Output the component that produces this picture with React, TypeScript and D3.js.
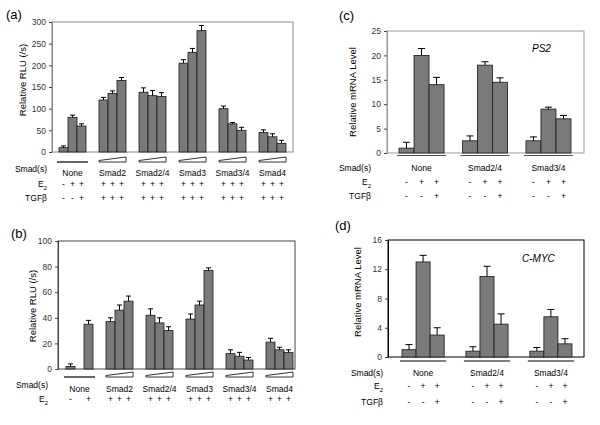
import React, { useRef, useEffect } from 'react';
import * as d3 from 'd3';

const FONT = '"Liberation Sans", Arial, sans-serif';

// (a) E2 + TGFb, RLU
const rluGroups = ['None', 'Smad2', 'Smad2/4', 'Smad3', 'Smad3/4', 'Smad4'];
const rluTgfValues = [[10, 80, 60], [120, 135, 165], [138, 130, 128], [205, 230, 280], [100, 65, 50], [45, 35, 20]];
const rluTgfErrors = [[4, 5, 5], [6, 6, 7], [10, 12, 9], [8, 9, 12], [6, 3, 7], [6, 7, 7]];
const rluTgfE2 = [['-', '+', '+'], ['+', '+', '+'], ['+', '+', '+'], ['+', '+', '+'], ['+', '+', '+'], ['+', '+', '+']];
const rluTgfTgf = [['-', '-', '+'], ['+', '+', '+'], ['+', '+', '+'], ['+', '+', '+'], ['+', '+', '+'], ['+', '+', '+']];
const rluTicks = [0, 50, 100, 150, 200, 250, 300];

// (b) E2 only, RLU
const rluE2Values = [[2, null, 35], [37, 46, 53], [42, 36, 30], [39, 50, 77], [12, 10, 7], [21, 15, 13]];
const rluE2Errors = [[2, null, 3], [3, 4, 4], [5, 4, 3], [4, 3, 2], [3, 3, 2], [3, 2, 2]];
const rluE2E2 = [['-', '', '+'], ['+', '+', '+'], ['+', '+', '+'], ['+', '+', '+'], ['+', '+', '+'], ['+', '+', '+']];
const rluE2Ticks = [0, 20, 40, 60, 80, 100];

// (c) PS2 and (d) C-MYC mRNA
const mrnaGroups = ['None', 'Smad2/4', 'Smad3/4'];
const ps2Values = [[1, 20, 14], [2.5, 18, 14.5], [2.5, 9, 7]];
const ps2Errors = [[1.2, 1.4, 1.5], [1, 0.7, 0.9], [0.8, 0.4, 0.7]];
const ps2Ticks = [0, 5, 10, 15, 20, 25];
const mycValues = [[1, 13, 3], [0.8, 11, 4.5], [0.8, 5.5, 1.8]];
const mycErrors = [[0.7, 0.9, 1], [0.6, 1.4, 1.4], [0.5, 1, 0.7]];
const mycTicks = [0, 4, 8, 12, 16];
const mrnaE2 = [['-', '+', '+'], ['-', '+', '+'], ['-', '+', '+']];
const mrnaTgf = [['-', '-', '+'], ['-', '-', '+'], ['-', '-', '+']];

function drawPanel(root: any, p: any) {
  const g = root.append('g');
  const y = d3.scaleLinear().domain([0, p.yMax]).range([p.bottom, p.top]);
  const x = d3.scaleBand().domain(p.groups).range([p.bandStart, p.bandEnd]).paddingInner(p.padInner).paddingOuter(0);
  const slot = d3.scaleBand<number>().domain([0, 1, 2]).range([0, x.bandwidth()]);
  const w = slot.bandwidth();

  g.append('rect')
    .attr('x', p.left).attr('y', p.top)
    .attr('width', p.right - p.left).attr('height', p.bottom - p.top)
    .attr('fill', 'none').attr('stroke', p.frame).attr('stroke-width', 1);

  const ax = g.append('g')
    .attr('transform', `translate(${p.left},0)`)
    .call(d3.axisLeft(y).tickValues(p.ticks).tickSize(3).tickPadding(3));
  ax.select('.domain').attr('stroke', p.frame);
  ax.selectAll('line').attr('stroke', '#444');
  ax.selectAll('text').attr('font-size', 8.5).attr('font-family', FONT).attr('fill', '#333');

  // bars + error bars
  p.groups.forEach((grp: string, gi: number) => {
    p.values[gi].forEach((v: number | null, si: number) => {
      if (v == null) return;
      const bx = (x(grp) as number) + (slot(si) as number);
      g.append('rect')
        .attr('x', bx).attr('y', y(v))
        .attr('width', w).attr('height', y(0) - y(v))
        .attr('fill', '#7a7a7a').attr('stroke', '#1a1a1a').attr('stroke-width', 0.8);
      const e = p.errors[gi][si];
      const cx = bx + w / 2;
      g.append('line').attr('x1', cx).attr('x2', cx).attr('y1', y(v)).attr('y2', y(v + e))
        .attr('stroke', '#000').attr('stroke-width', 1);
      g.append('line').attr('x1', cx - p.cap).attr('x2', cx + p.cap).attr('y1', y(v + e)).attr('y2', y(v + e))
        .attr('stroke', '#000').attr('stroke-width', 1);
    });

    // group marker: line or dose wedge
    const gx0 = x(grp) as number;
    const gx1 = gx0 + x.bandwidth();
    if (p.wedge && grp !== 'None') {
      g.append('polygon')
        .attr('points', `${gx0},${p.markY} ${gx1},${p.markY} ${gx1},${p.markY - 5} ${gx0},${p.markY - 1.5}`)
        .attr('fill', '#fff').attr('stroke', '#000').attr('stroke-width', 0.8);
    } else {
      g.append('line')
        .attr('x1', gx0 - 2).attr('x2', gx1 + 2).attr('y1', p.markY).attr('y2', p.markY)
        .attr('stroke', p.lineColor).attr('stroke-width', 1.2);
    }

    g.append('text')
      .attr('x', (gx0 + gx1) / 2).attr('y', p.groupY)
      .attr('text-anchor', 'middle').attr('font-size', 8.5).attr('font-family', FONT)
      .text(grp);
  });

  g.append('text')
    .attr('x', p.rowLabelX).attr('y', p.smadY)
    .attr('text-anchor', 'end').attr('font-size', 8.5).attr('font-family', FONT)
    .text('Smad(s)');

  p.rows.forEach((row: any) => {
    const t = g.append('text')
      .attr('x', p.rowLabelX).attr('y', row.y)
      .attr('text-anchor', 'end').attr('font-size', 8.5).attr('font-family', FONT);
    if (row.label === 'E2') {
      t.append('tspan').text('E');
      t.append('tspan').attr('font-size', 6).attr('dy', 2.5).text('2');
    } else {
      t.text(row.label);
    }
    p.groups.forEach((grp: string, gi: number) => {
      row.marks[gi].forEach((m: string, si: number) => {
        if (!m) return;
        g.append('text')
          .attr('x', (x(grp) as number) + (slot(si) as number) + w / 2).attr('y', row.y)
          .attr('text-anchor', 'middle').attr('font-size', 8.5).attr('font-family', FONT)
          .text(m);
      });
    });
  });

  g.append('text')
    .attr('transform', `translate(${p.yLabelX},${p.yLabelY}) rotate(-90)`)
    .attr('text-anchor', 'middle').attr('font-size', 9.5).attr('font-family', FONT)
    .text(p.yLabel);

  g.append('text')
    .attr('x', p.tagX).attr('y', p.tagY)
    .attr('font-size', 13).attr('font-family', FONT)
    .text(p.tag);

  if (p.gene) {
    g.append('text')
      .attr('x', p.geneX).attr('y', p.geneY)
      .attr('font-size', 10).attr('font-style', 'italic').attr('font-family', FONT)
      .text(p.gene);
  }
}

const App: React.FC = () => {
  const ref = useRef<SVGSVGElement>(null);

  useEffect(() => {
    const svg = d3.select(ref.current);
    svg.selectAll('*').remove();

    drawPanel(svg, {
      tag: '(a)', tagX: 6, tagY: 19,
      left: 52, right: 293, top: 22, bottom: 152, frame: '#888',
      bandStart: 59, bandEnd: 286, padInner: 0.325, cap: 2.5,
      yMax: 300, ticks: rluTicks, groups: rluGroups,
      values: rluTgfValues, errors: rluTgfErrors,
      wedge: true, markY: 162, lineColor: '#000',
      groupY: 176, smadY: 172, rowLabelX: 47,
      rows: [{ label: 'E2', y: 187, marks: rluTgfE2 }, { label: 'TGFβ', y: 201, marks: rluTgfTgf }],
      yLabel: 'Relative RLU (/s)', yLabelX: 26, yLabelY: 80,
    });

    drawPanel(svg, {
      tag: '(b)', tagX: 11, tagY: 238,
      left: 58, right: 295, top: 241, bottom: 369, frame: '#444',
      bandStart: 66, bandEnd: 293, padInner: 0.325, cap: 2.5,
      yMax: 100, ticks: rluE2Ticks, groups: rluGroups,
      values: rluE2Values, errors: rluE2Errors,
      wedge: true, markY: 377, lineColor: '#000',
      groupY: 392, smadY: 388, rowLabelX: 48,
      rows: [{ label: 'E2', y: 402, marks: rluE2E2 }],
      yLabel: 'Relative RLU (/s)', yLabelX: 36, yLabelY: 306,
    });

    drawPanel(svg, {
      tag: '(c)', tagX: 339, tagY: 20, gene: 'PS2', geneX: 532, geneY: 52,
      left: 387, right: 584, top: 31, bottom: 153, frame: '#999',
      bandStart: 399, bandEnd: 571, padInner: 0.29, cap: 3.5,
      yMax: 25, ticks: ps2Ticks, groups: mrnaGroups,
      values: ps2Values, errors: ps2Errors,
      wedge: false, markY: 155.5, lineColor: '#555',
      groupY: 171, smadY: 171, rowLabelX: 371,
      rows: [{ label: 'E2', y: 185, marks: mrnaE2 }, { label: 'TGFβ', y: 199, marks: mrnaTgf }],
      yLabel: 'Relative mRNA Level', yLabelX: 356, yLabelY: 92,
    });

    drawPanel(svg, {
      tag: '(d)', tagX: 335, tagY: 230, gene: 'C-MYC', geneX: 522, geneY: 262,
      left: 388, right: 584, top: 240, bottom: 357, frame: '#000',
      bandStart: 402, bandEnd: 572, padInner: 0.34, cap: 3.5,
      yMax: 16, ticks: mycTicks, groups: mrnaGroups,
      values: mycValues, errors: mycErrors,
      wedge: false, markY: 361, lineColor: '#000',
      groupY: 376, smadY: 376, rowLabelX: 383,
      rows: [{ label: 'E2', y: 389, marks: mrnaE2 }, { label: 'TGFβ', y: 405, marks: mrnaTgf }],
      yLabel: 'Relative mRNA Level', yLabelX: 361, yLabelY: 292,
    });
  }, []);

  return (
    <svg ref={ref} width={600} height={425} style={{ position: 'absolute', left: 0, top: 0, background: '#fff' }} />
  );
};

export default App;
